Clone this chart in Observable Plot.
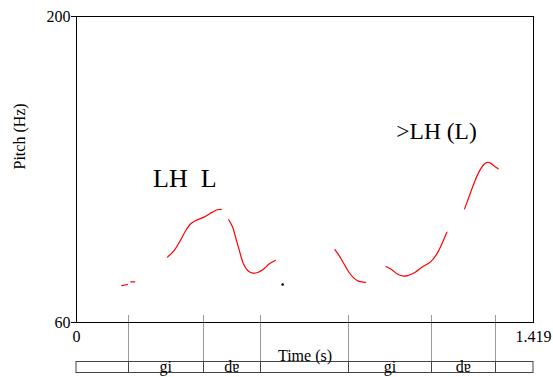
<!DOCTYPE html>
<html><head><meta charset="utf-8">
<script src="https://cdn.jsdelivr.net/npm/d3@7"></script>
<script src="https://cdn.jsdelivr.net/npm/@observablehq/plot@0.6"></script>
<style>html,body{margin:0;padding:0;background:#fff;}</style>
</head><body><div id="chart"></div>
<script>
// ---- data ----
const timeRange = [0, 1.419];
const pitchRange = [60, 200];
const xTickLabels = ["0", "1.419"];
const yTicks = [60, 200];

// pitch contour segments: [time (s), pitch (Hz)]
const seg1 = [[0.1406, 76.9], [0.1583, 77.4]];
const seg2 = [[0.1685, 78.6], [0.1809, 78.6]];
const seg3 = [[0.2824, 89.9], [0.3029, 92.9], [0.3236, 97.8], [0.3392, 102.1], [0.3547, 105.2], [0.3702, 106.7], [0.3959, 108.2], [0.4220, 110.5], [0.4375, 111.6], [0.4499, 111.7]];
const seg4 = [[0.4726, 107.0], [0.4850, 103.6], [0.4952, 98.3], [0.5058, 92.9], [0.5182, 86.9], [0.5316, 83.8], [0.5471, 82.6], [0.5626, 82.9], [0.5781, 84.1], [0.5989, 86.9], [0.6175, 88.4]];
const seg5 = [[0.8024, 93.3], [0.8149, 90.7], [0.8304, 86.9], [0.8459, 83.0], [0.8614, 80.3], [0.8769, 78.8], [0.8977, 78.4]];
const seg6 = [[0.9607, 85.6], [0.9793, 84.1], [0.9948, 82.3], [1.0156, 81.2], [1.0311, 81.6], [1.0519, 83.0], [1.0724, 85.3], [1.0985, 87.6], [1.1189, 91.4], [1.1345, 96.0], [1.1500, 101.3]];
const seg7 = [[1.2049, 112.0], [1.2182, 117.3], [1.2338, 123.5], [1.2493, 128.8], [1.2648, 132.3], [1.2753, 133.3], [1.2856, 132.9], [1.2989, 131.4], [1.3095, 130.3]];
const pitchSegments = [seg1, seg2, seg3, seg4, seg5, seg6, seg7];
const isolatedPoint = [[0.6402, 77.4]];

// TextGrid tier
const boundaries = [0.1614, 0.3928, 0.5719, 0.8459, 1.1015, 1.3011];
const intervalLabels = ["", "gi", "dɐ", "", "gi", "dɐ", ""];

// annotations
const annotationLabels = ["LH\u00a0\u00a0L", ">LH (L)"];
const annotationTimes = [0.3363, 1.118];
const annotationPitches = [125.9, 147.4];
const annotationSizes = [26, 23.5];

// ---- derived tables ----
const pitch = pitchSegments.flatMap((s, i) => s.map(([t, hz]) => ({t, hz, seg: i})));
const edges = [timeRange[0], ...boundaries, timeRange[1]];
const intervals = intervalLabels.map((label, i) => ({label, mid: (edges[i] + edges[i + 1]) / 2})).filter(d => d.label);
const annotations = annotationLabels.map((label, i) => ({label, t: annotationTimes[i], hz: annotationPitches[i]}));

const serif = "'Liberation Serif','Times New Roman',Times,serif";

// tier drawing (uses Plot's x scale)
function tierMark(index, scales, values, dims) {
  const g = d3.create("svg:g");
  const base = dims.height - dims.marginBottom;
  const top = base + 39, bottom = base + 50;
  const x0 = scales.x(timeRange[0]), x1 = scales.x(timeRange[1]);
  g.selectAll("line.ext").data(boundaries).join("line")
    .attr("x1", d => Math.round(scales.x(d)) + 0.5).attr("x2", d => Math.round(scales.x(d)) + 0.5)
    .attr("y1", base - 7).attr("y2", top)
    .attr("stroke", "#9a9a9a").attr("stroke-width", 1);
  g.append("rect").attr("x", x0).attr("y", top + 0.5).attr("width", x1 - x0).attr("height", bottom - top)
    .attr("fill", "none").attr("stroke", "#444").attr("stroke-width", 1);
  g.selectAll("line.in").data(boundaries).join("line")
    .attr("x1", d => Math.round(scales.x(d)) + 0.5).attr("x2", d => Math.round(scales.x(d)) + 0.5)
    .attr("y1", top).attr("y2", bottom + 0.5)
    .attr("stroke", "#444").attr("stroke-width", 1);
  return g.node();
}

const chart = Plot.plot({
  width: 553, height: 377,
  marginLeft: 76, marginRight: 20, marginTop: 16, marginBottom: 55,
  style: {fontFamily: serif, fontSize: "16px", background: "#fff", color: "#000", overflow: "visible"},
  x: {domain: timeRange},
  y: {domain: pitchRange},
  marks: [
    tierMark,
    Plot.frame({stroke: "#000"}),
    Plot.axisY({ticks: yTicks, tickSize: 5, tickPadding: 1, fontSize: 16, fontFamily: serif, label: null, tickFormat: d => String(d)}),
    Plot.axisX({ticks: timeRange, tickSize: 0, tickPadding: 8, fontSize: 16, fontFamily: serif, label: null, tickFormat: d => xTickLabels[timeRange.indexOf(d)]}),
    Plot.line(pitch, {x: "t", y: "hz", z: "seg", stroke: "#f00", strokeWidth: 1.2, curve: "catmull-rom"}),
    Plot.dot(isolatedPoint, {x: d => d[0], y: d => d[1], r: 1.3, fill: "#000", stroke: null}),
    Plot.text(annotations.slice(0, 1), {x: "t", y: "hz", text: "label", fontSize: annotationSizes[0], fontFamily: serif, lineAnchor: "middle", textAnchor: "middle"}),
    Plot.text(annotations.slice(1), {x: "t", y: "hz", text: "label", fontSize: annotationSizes[1], fontFamily: serif, lineAnchor: "middle", textAnchor: "middle"}),
    Plot.text(intervals, {x: "mid", y: pitchRange[0], text: "label", dy: 49, lineAnchor: "bottom", fontSize: 16, fontFamily: serif}),
    Plot.text(["Time (s)"], {text: d => d, frameAnchor: "bottom", dy: 38, lineAnchor: "bottom", fontSize: 16, fontFamily: serif}),
    Plot.text(["Pitch (Hz)"], {text: d => d, frameAnchor: "left", rotate: -90, dx: -57, fontSize: 16, fontFamily: serif})
  ]
});
document.getElementById("chart").appendChild(chart);
</script>
</body></html>
